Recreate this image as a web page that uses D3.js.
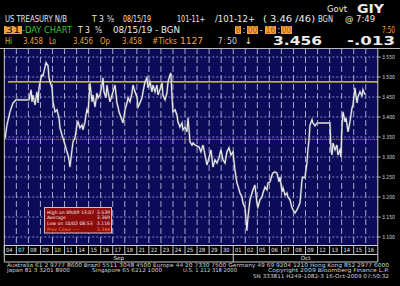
<!DOCTYPE html>
<html><head><meta charset="utf-8">
<script src="https://cdn.jsdelivr.net/npm/d3@7"></script>
<style>html,body{margin:0;padding:0;background:#000;overflow:hidden}</style>
</head><body>
<svg id="c" width="400" height="286"></svg>
<script>
// ---------------- data ----------------
const dayLabels = ["04","07","08","09","10","11","14","15","16","17","18","21","22","23","24","25","28","29","30","01","02","05","06","07","08","09","12","13","14","15","16"];
const monthNames = ["Sep","Oct"];
const monthStart = [0,19];
const yTicks = [3.10,3.15,3.20,3.25,3.30,3.35,3.40,3.45,3.50,3.55];
// time in trading-day index (fraction of the 8:00-16:00 session), yield in %
const tickTime = [
 0.06,0.22,0.47,0.72,0.97,
 2.05,2.22,2.30,2.38,2.55,2.63,2.71,2.80,2.88,3.05,
 3.13,3.21,3.29,3.46,3.63,3.71,3.79,3.96,
 4.04,4.21,4.37,4.54,4.62,4.79,4.87,5.04,
 5.20,5.29,5.37,5.45,5.54,5.62,5.70,5.87,
 6.03,6.12,6.28,6.45,6.53,6.70,6.78,6.86,6.95,
 7.11,7.28,7.36,7.53,7.69,7.78,7.94,
 8.11,8.19,8.27,8.44,8.52,8.61,8.77,8.94,
 9.02,9.19,9.35,9.44,9.52,9.68,9.85,9.93,
 10.02,10.18,10.27,10.43,10.60,10.68,10.85,
 11.01,11.10,11.26,11.43,11.51,11.68,11.84,
 11.93,12.09,12.26,12.34,12.51,12.67,12.76,12.92,
 13.09,13.17,13.34,13.50,13.59,13.75,13.83,13.92,
 14.00,14.17,14.33,14.41,14.58,14.75,14.83,
 15.00,15.16,15.25,15.41,15.58,15.66,15.83,
 16.16,16.32,16.49,16.66,16.82,
 16.99,17.15,17.32,17.49,17.65,17.82,
 17.98,18.15,18.32,18.48,18.65,18.81,18.98,
 19.14,19.31,19.39,19.56,19.73,19.81,19.98,
 20.14,20.22,20.39,20.56,20.64,20.80,20.97,
 21.05,21.22,21.39,21.47,21.64,21.80,21.88,
 22.05,22.22,22.30,22.46,22.63,22.71,22.80,22.88,23.05,
 23.13,23.30,23.46,23.54,23.71,23.88,
 23.96,24.13,24.29,24.37,24.54,24.71,24.79,24.95,
 25.12,25.20,25.29,25.37,25.54,25.62,25.79,25.95,
 27.03,27.11,27.20,27.28,27.45,27.61,27.69,27.86,27.94,
 28.03,28.11,28.28,28.36,28.53,28.69,28.86,28.94,
 29.10,29.27,29.35,29.52,29.68,29.77,29.93
];
const tickYield = [
 3.346,3.380,3.413,3.435,3.443,
 3.443,3.468,3.438,3.455,3.430,3.448,3.463,3.435,3.473,3.498,
 3.505,3.503,3.513,3.536,3.528,3.498,3.488,3.473,
 3.438,3.413,3.418,3.398,3.373,3.355,3.348,3.330,
 3.313,3.305,3.293,3.275,3.298,3.318,3.338,3.348,
 3.380,3.388,3.373,3.380,3.368,3.388,3.405,3.418,3.410,
 3.485,3.438,3.455,3.425,3.460,3.448,3.455,
 3.480,3.498,3.463,3.448,3.480,3.463,3.438,3.455,
 3.463,3.480,3.435,3.425,3.413,3.400,3.385,3.400,
 3.418,3.435,3.448,3.438,3.460,3.480,3.463,
 3.450,3.425,3.435,3.448,3.463,3.488,3.498,
 3.473,3.488,3.463,3.480,3.463,3.480,3.455,3.468,
 3.485,3.455,3.443,3.460,3.488,3.505,3.510,3.448,
 3.413,3.418,3.405,3.388,3.375,3.385,3.368,
 3.375,3.363,3.398,3.338,3.330,3.335,3.330,
 3.325,3.313,3.330,3.305,3.280,
 3.298,3.318,3.275,3.293,3.285,3.298,
 3.318,3.293,3.285,3.313,3.323,3.305,3.313,
 3.268,3.235,3.228,3.210,3.200,3.185,3.173,
 3.116,3.148,3.193,3.210,3.218,3.230,3.185,
 3.175,3.193,3.200,3.210,3.225,3.218,3.235,
 3.238,3.255,3.260,3.263,3.260,3.250,3.238,3.250,3.213,
 3.223,3.205,3.210,3.200,3.193,3.173,
 3.168,3.160,3.168,3.173,3.185,3.243,3.250,3.248,
 3.285,3.318,3.343,3.380,3.393,3.385,3.378,3.385,
 3.385,3.318,3.305,3.335,3.318,3.330,3.305,3.318,3.300,
 3.380,3.413,3.388,3.398,3.363,3.388,3.423,3.430,
 3.473,3.435,3.450,3.463,3.453,3.468,3.456
];
const prevClose = 3.344;
const refLevel = 3.488;
const statLabels = ["High on 09/09 13:07","Average","Low on 10/02 08:53","Prev Close ----"];
const statValues = [3.539,3.369,3.116,3.344];

// ---------------- drawing ----------------
const svg = d3.select("#c");
svg.append("rect").attr("width",400).attr("height",286).attr("fill","#000");

const L=4.3, R=377.8, T=48, B=245;
const x = d3.scaleLinear().domain([0,dayLabels.length]).range([L,R]);
const y = d3.scaleLinear().domain([3.08,3.5725]).range([B,T]);

const FONT = "'DejaVu Sans', sans-serif";
function txt(g, s, px, py, o={}) {
  const t = g.append("text").attr("x",px).attr("y",py).text(s)
    .attr("font-family", o.family||FONT).attr("font-size", o.size||8)
    .attr("fill", o.fill||"#e8e8e8");
  if (o.w) t.attr("textLength",o.w).attr("lengthAdjust","spacingAndGlyphs");
  if (o.bold) t.attr("font-weight","bold");
  if (o.anchor) t.attr("text-anchor",o.anchor);
  return t;
}

// plot background
svg.append("rect").attr("x",L).attr("y",T).attr("width",R-L).attr("height",B-T).attr("fill","#0b0b5a");

// gridlines
const grid = svg.append("g");
grid.selectAll(".hg").data(yTicks).join("line")
  .attr("x1",L).attr("x2",R).attr("y1",d=>y(d)).attr("y2",d=>y(d))
  .attr("stroke","#8a8ac4").attr("stroke-width",1).attr("stroke-dasharray","2,2");
grid.selectAll(".vg").data(d3.range(1,dayLabels.length)).join("line")
  .attr("x1",d=>x(d)).attr("x2",d=>x(d)).attr("y1",T).attr("y2",B)
  .attr("stroke","#a6a6cc").attr("stroke-width",1).attr("stroke-dasharray","6,3");

// reference lines
svg.append("line").attr("x1",8).attr("x2",R).attr("y1",y(refLevel)).attr("y2",y(refLevel))
  .attr("stroke","#f4f040").attr("stroke-width",1.2);
svg.append("line").attr("x1",L).attr("x2",R).attr("y1",y(prevClose)).attr("y2",y(prevClose))
  .attr("stroke","#d08a4a").attr("stroke-width",1).attr("stroke-dasharray","1,1");

// price line
const pts = tickTime.map((t,i)=>[t,tickYield[i]]);
const line = d3.line().x(d=>x(d[0])).y(d=>y(d[1]));
svg.append("path").attr("d",line(pts)).attr("fill","none")
  .attr("stroke","#9a9a9a").attr("stroke-width",2.2).attr("stroke-opacity",0.5);
svg.append("path").attr("d",line(pts)).attr("fill","none")
  .attr("stroke","#eeeeee").attr("stroke-width",1.1);
// holiday gaps drawn grey
for (let i=0;i<pts.length-1;i++){
  if (pts[i+1][0]-pts[i][0] > 0.6){
    svg.append("line").attr("x1",x(pts[i][0])).attr("x2",x(pts[i+1][0]))
      .attr("y1",y(pts[i][1])).attr("y2",y(pts[i+1][1]))
      .attr("stroke","#b4b4b4").attr("stroke-width",1.6);
  }
}

// plot borders
svg.append("line").attr("x1",0).attr("x2",400).attr("y1",48.5).attr("y2",48.5).attr("stroke","#bdbdbd");
svg.append("line").attr("x1",L).attr("x2",L).attr("y1",T).attr("y2",262).attr("stroke","#d0d0d0");
svg.append("line").attr("x1",R).attr("x2",R).attr("y1",T).attr("y2",262).attr("stroke","#d0d0d0");
svg.append("line").attr("x1",L).attr("x2",R).attr("y1",B+0.5).attr("y2",B+0.5).attr("stroke","#d0d0d0");

// right axis labels
const ax = svg.append("g");
yTicks.forEach(v=>{
  ax.append("line").attr("x1",R).attr("x2",R+3).attr("y1",y(v)).attr("y2",y(v)).attr("stroke","#aaa");
  txt(ax, d3.format(".3f")(v), 382, y(v)+2.2, {size:5.6, w:13, fill:"#d8d8d8"});
});

// date row
const dr = svg.append("g");
dayLabels.forEach((lab,i)=>{
  dr.append("line").attr("x1",x(i)).attr("x2",x(i)).attr("y1",B).attr("y2",254).attr("stroke","#c8c8c8");
  txt(dr, lab, x(i)+1.8, 252.3, {size:5.8, w:6.5, fill:"#e8e8e8"});
});
// month row
svg.append("line").attr("x1",L).attr("x2",R).attr("y1",254.5).attr("y2",254.5).attr("stroke","#c8c8c8");
svg.append("line").attr("x1",L).attr("x2",R).attr("y1",262).attr("y2",262).attr("stroke","#c8c8c8");
monthNames.forEach((m,i)=>{
  const s = monthStart[i], e = i+1<monthStart.length?monthStart[i+1]:dayLabels.length;
  if (i>0) svg.append("line").attr("x1",x(s)).attr("x2",x(s)).attr("y1",254).attr("y2",262).attr("stroke","#c8c8c8");
  txt(svg, m, (x(s)+x(e))/2, 260.3, {size:5.6, anchor:"middle", fill:"#e0e0e0"});
});

// stats box
const sb = svg.append("g");
sb.append("rect").attr("x",44.5).attr("y",207.5).attr("width",67).attr("height",25.5)
  .attr("fill","#8c0c0c").attr("stroke","#d0c0c0").attr("stroke-width",1);
statLabels.forEach((s,i)=>{
  const col = i===3 ? "#ff8a3a" : "#f0e8e8";
  const yy = 213.6 + i*5.7;
  txt(sb, s, 47, yy, {size:4.6, fill:col});
  txt(sb, d3.format(".3f")(statValues[i]), 110, yy, {size:4.6, fill:col, anchor:"end"});
});

// header
const h = svg.append("g");
const OR = "#f0a23c", WH = "#ececec", GR = "#3cc03c";
txt(h, "Govt", 327, 12, {size:8.5, w:20, fill:WH});
txt(h, "GIY", 357, 13, {size:11.5, w:27, fill:WH, bold:true});

txt(h, "US TREASURY N/B", 5, 22, {size:8, w:62, fill:WH});
txt(h, "T 3", 92, 22, {size:8, w:12, fill:WH});
txt(h, "⅝", 107, 22, {size:8, w:7, fill:WH});
txt(h, "08/15/19", 123, 22, {size:8, w:28, fill:WH});
txt(h, "101-11+", 177, 22, {size:8, w:28, fill:WH});
txt(h, "/101-12+", 215, 22, {size:8, w:40, fill:WH});
txt(h, "( 3.46 /46)", 263, 22, {size:8, w:52, fill:WH});
txt(h, "BGN", 318, 22, {size:8, w:15, fill:WH});
txt(h, "@ 7:49", 345, 22, {size:8, w:30, fill:WH});

h.append("rect").attr("x",4).attr("y",26).attr("width",18).attr("height",8).attr("fill",OR);
txt(h, "31", 5.5, 33, {size:8, w:15, fill:"#201000"});
txt(h, "-DAY CHART", 22, 33, {size:8, w:50, fill:GR});
txt(h, "T 3", 78, 33, {size:8, w:12, fill:WH});
txt(h, "⅝", 95, 33, {size:8, w:7, fill:WH});
txt(h, "08/15/19 - BGN", 113, 33, {size:8, w:67, fill:WH});
[[235,241,"8"],[247,258,"00"],[265,276,"16"],[281,292,"00"]].forEach(b=>{
  h.append("rect").attr("x",b[0]).attr("y",26).attr("width",b[1]-b[0]).attr("height",8).attr("fill",OR);
  txt(h, b[2], b[0]+0.8, 33, {size:8, w:b[1]-b[0]-1.6, fill:"#b05a00"});
});
txt(h, ":", 242.5, 33, {size:8, fill:WH});
txt(h, "-", 259.5, 33, {size:8, fill:WH});
txt(h, ":", 277.5, 33, {size:8, fill:WH});
txt(h, "7:50", 382, 33, {size:8, w:13, fill:OR});

[["Hi",5,7],["3.458",23,20],["Lo",49,7],["3.456",73,20],["Op",100,10],["3.458",122,20],["#Ticks",152,25],["1127",180,23]]
  .forEach(s=>txt(h, s[0], s[1], 43.5, {size:8, w:s[2], fill:OR}));
txt(h, "7", 218, 43.5, {size:8, w:4.5, fill:"#d8d8d8"});
txt(h, ":", 223, 43.5, {size:8, fill:"#e03030"});
txt(h, "50", 227, 43.5, {size:8, w:10, fill:"#d8d8d8"});
txt(h, "↓", 245, 44, {size:9, w:7, fill:WH});
txt(h, "3.456", 273, 45, {size:12, w:49, fill:WH, bold:true});
txt(h, "-.013", 347, 45, {size:12, w:48, fill:WH, bold:true});

// footer
const f = svg.append("g");
const FC = "#d4d4d4", FS = 5.3;
txt(f, "Australia 61 2 9777 8600 Brazil 5511 3048 4500 Europe 44 20 7330 7500 Germany 49 69 9204 1210 Hong Kong 852 2977 6000", 7, 267, {size:FS, w:382, fill:FC});
txt(f, "Japan 81 3 3201 8900", 7, 272.3, {size:FS, w:63, fill:FC});
txt(f, "Singapore 65 6212 1000", 92, 272.3, {size:FS, w:70, fill:FC});
txt(f, "U.S. 1 212 318 2000", 183, 272.3, {size:FS, w:54, fill:FC});
txt(f, "Copyright 2009 Bloomberg Finance L.P.", 268, 272.3, {size:FS, w:121, fill:FC});
txt(f, "SN 333811 H249-1082-3 16-Oct-2009 07:50:32", 253, 277.6, {size:FS, w:136, fill:FC});
</script>
</body></html>
